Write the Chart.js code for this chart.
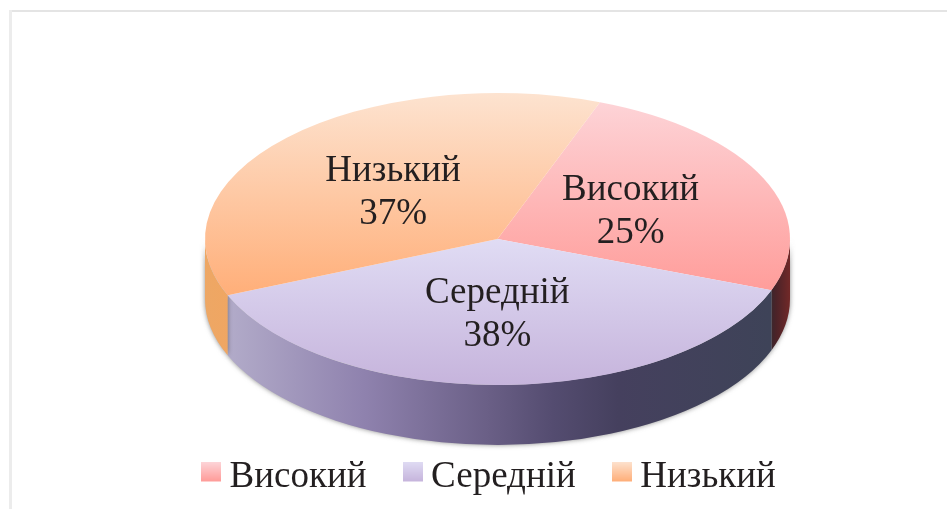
<!DOCTYPE html>
<html><head><meta charset="utf-8">
<script src="https://cdn.jsdelivr.net/npm/chart.js@4"></script>
<style>
html,body{margin:0;padding:0;background:#fff;overflow:hidden}
#wrap{position:relative;width:947px;height:509px}
#frameTop{position:absolute;left:9px;top:10px;width:938px;height:2px;background:#e4e4e4}
#frameLeft{position:absolute;left:9px;top:10px;width:3px;height:499px;background:#ececec}
canvas{position:absolute;left:0;top:0}
</style></head><body>
<div id="wrap"><div id="frameTop"></div><div id="frameLeft"></div><canvas id="c" width="947" height="509"></canvas></div>
<script>
const categories = ['Високий', 'Середній', 'Низький'];
const values = [25, 38, 37];
const faceTop = ['#fdd6da', '#e0dcf4', '#fde3d0'];
const faceBottom = ['#ff9b98', '#c6b4dc', '#ffae78'];
const sideStops = [
  [[0, '#3a2028'], [1, '#7a2a28']],
  [[0, '#b2abc9'], [0.25, '#8f82ae'], [0.48, '#6a5f86'], [0.6, '#544c70'], [0.72, '#45405e'], [1, '#3e4358']],
  [[0, '#eda765'], [1, '#f0a662']]
];
const sideRanges = [[770, 793], [228, 770], [203, 230]];
const labelNudgeX = [0, -3, 1];
const labelNudgeY = [-1, -1, 1];
const target = {cx: 497.5, cy: 239, rx: 292.5, ry: 146, depth: 60};

function view(chart) {
  const m = chart.getDatasetMeta(0).data[0];
  return {x: m.x, y: m.y, R: m.outerRadius, sx: target.rx / m.outerRadius, sy: target.ry / m.outerRadius};
}
function toPage(chart, p) {
  const v = view(chart);
  return {x: target.cx + (p.x - v.x) * v.sx, y: target.cy + (p.y - v.y) * v.sy};
}
const pie3d = {
  id: 'pie3d',
  beforeDatasetsDraw(chart) {
    const ctx = chart.ctx, v = view(chart), arcs = chart.getDatasetMeta(0).data;
    ctx.save();
    ctx.translate(target.cx, target.cy);
    ctx.scale(v.sx, v.sy);
    ctx.translate(-v.x, -v.y);
    const depth = target.depth / v.sy;
    arcs.forEach((a, i) => {
      const norm = t => { let n = t; while (n > Math.PI) n -= 2 * Math.PI; while (n < -Math.PI) n += 2 * Math.PI; return n; };
      let s = norm(a.startAngle), e = s + (a.endAngle - a.startAngle);
      s = Math.max(s, 0); e = Math.min(e, Math.PI);
      if (e <= s) return;
      const x0 = v.x + (sideRanges[i][0] - target.cx) / v.sx;
      const x1 = v.x + (sideRanges[i][1] - target.cx) / v.sx;
      const g = ctx.createLinearGradient(x0, 0, x1, 0);
      sideStops[i].forEach(st => g.addColorStop(st[0], st[1]));
      ctx.save();
      ctx.shadowColor = 'rgba(60,60,60,0.6)';
      ctx.shadowBlur = 5;
      ctx.beginPath();
      ctx.arc(v.x, v.y, v.R, s, e);
      ctx.arc(v.x, v.y + depth, v.R, e, s, true);
      ctx.closePath();
      ctx.fillStyle = g;
      ctx.fill();
      ctx.restore();
    });
  },
  afterDatasetsDraw(chart) {
    const ctx = chart.ctx;
    ctx.restore();
    const arcs = chart.getDatasetMeta(0).data;
    ctx.save();
    ctx.fillStyle = '#231f20';
    ctx.font = '37px "Liberation Serif"';
    ctx.textAlign = 'center';
    ctx.textBaseline = 'alphabetic';
    arcs.forEach((a, i) => {
      const p = toPage(chart, a.getCenterPoint());
      const x = p.x + labelNudgeX[i], y = p.y + labelNudgeY[i];
      ctx.fillText(categories[i], x, y - 8);
      ctx.fillText(values[i] + '%', x, y + 35);
    });
    ctx.restore();
  }
};
function swatch(i) {
  const c = document.createElement('canvas');
  c.width = 20; c.height = 32;
  const x = c.getContext('2d');
  const g = x.createLinearGradient(0, 0, 0, 20);
  g.addColorStop(0, faceTop[i]); g.addColorStop(1, faceBottom[i]);
  x.fillStyle = g; x.fillRect(0, 0, 20, 20);
  return c;
}
new Chart(document.getElementById('c'), {
  type: 'pie',
  data: {
    labels: categories,
    datasets: [{
      data: values,
      clip: false,
      borderWidth: 0,
      backgroundColor(ctx) {
        const a = ctx.chart.chartArea;
        if (!a) return faceBottom[ctx.dataIndex];
        const i = ctx.dataIndex;
        const g = ctx.chart.ctx.createLinearGradient(0, a.top, 0, a.bottom);
        if (i === 1) {
          g.addColorStop(0.5, faceTop[i]); g.addColorStop(1, faceBottom[i]);
        } else {
          g.addColorStop(0, faceTop[i]); g.addColorStop(0.7, faceBottom[i]);
        }
        return g;
      }
    }]
  },
  options: {
    responsive: false,
    animation: false,
    rotation: 20.5,
    layout: {padding: {top: 40, bottom: 3, left: 48, right: 8}},
    plugins: {
      tooltip: {enabled: false},
      legend: {
        position: 'bottom',
        labels: {
          font: {family: '"Liberation Serif"', size: 37},
          color: '#231f20',
          padding: 46,
          usePointStyle: true,
          pointStyleWidth: 0.01,
          generateLabels(chart) {
            return categories.map((t, i) => ({text: t, pointStyle: swatch(i), fontColor: '#231f20', lineWidth: 0, strokeStyle: 'transparent', fillStyle: faceBottom[i], index: i, hidden: false}));
          }
        }
      }
    }
  },
  plugins: [pie3d]
});
</script>
</body></html>
